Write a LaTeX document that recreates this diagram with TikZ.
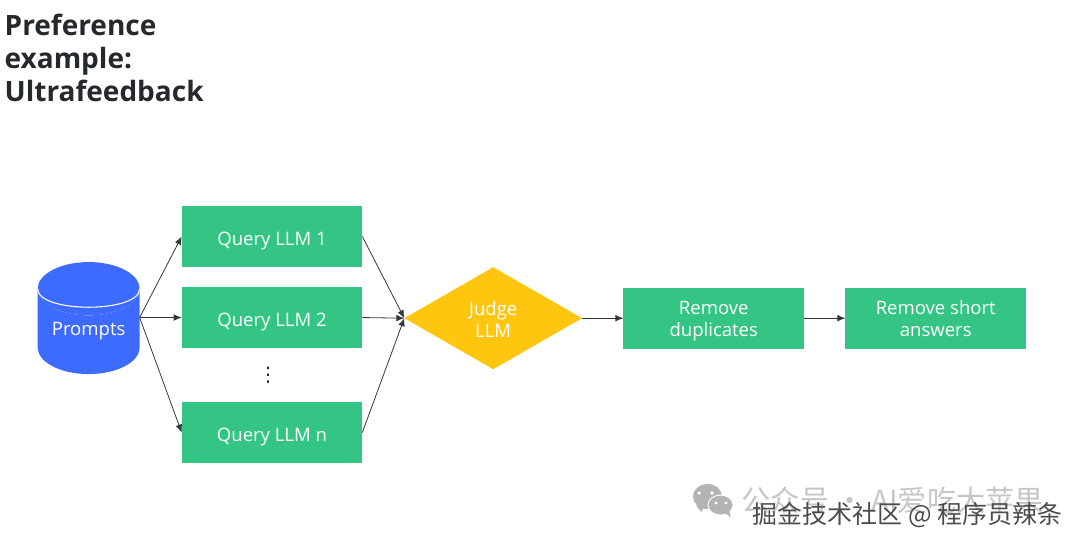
\documentclass[tikz,border=0pt]{standalone}
\usepackage{fontspec}
\setmainfont{Open Sans}
\newfontfamily\cjkfont{Noto Sans CJK SC}
\newfontfamily\symfont{DejaVu Sans}
\usepackage{tikz}
\usetikzlibrary{positioning, arrows.meta, shapes.geometric}
\usepackage{xcolor}
\definecolor{ufgreen}{HTML}{34C585}
\definecolor{ufyellow}{HTML}{FFC60F}
\definecolor{ufblue}{HTML}{3D6BFF}
\definecolor{ufink}{HTML}{25282D}
\definecolor{ufline}{HTML}{33363A}
\definecolor{ufmark}{HTML}{C6C6C6}
\definecolor{ufmarkicon}{HTML}{B4B4B4}
\tikzset{
  ufbox/.style   = {fill=ufgreen, minimum width=135.5pt, minimum height=45.75pt,
                    inner sep=0pt, outer sep=0pt, align=center, text=white,
                    font=\fontsize{13.9}{16.5}\selectfont,
                    execute at begin node=\rule{0pt}{16.5pt}},
  uftwo/.style   = {execute at begin node=\rule[-3.5pt]{0pt}{34.5pt}},
  ufdec/.style   = {diamond, fill=ufyellow, aspect=1.735, minimum width=133.3pt,
                    minimum height=76.5pt, inner sep=0pt, outer sep=0pt,
                    align=center, text=white, font=\fontsize{13.9}{16.5}\selectfont,
                    execute at begin node=\rule{0pt}{28.5pt}},
  ufdb/.style    = {cylinder, shape border rotate=90, aspect=0.725, draw=none,
                    cylinder uses custom fill, cylinder body fill=ufblue,
                    cylinder end fill=ufblue, minimum width=76.5pt,
                    minimum height=84pt, inner sep=0pt, outer sep=0pt, text=white,
                    font=\fontsize{13.9}{16.5}\selectfont},
  ufarrow/.style = {-{Latex[length=6pt,width=5pt]}, ufline, line width=0.6pt},
  uftitle/.style = {align=left, inner sep=0pt, text=ufink,
                    font=\fontsize{21}{25.1}\selectfont\bfseries}
}
\begin{document}
\begin{tikzpicture}[node distance=15pt and 31.5pt]
  \useasboundingbox (0,0) rectangle (810pt,-408.75pt);

  \node[uftitle, anchor=north west] (title) at (3.3pt,-10pt)
        {Preference\\example:\\Ultrafeedback};

  \node[ufbox] (q1) at (204pt,-177.4pt) {Query LLM 1};
  \node[ufbox, below=of q1]        (q2) {Query LLM 2};
  \node[ufbox, below=40.5pt of q2] (qn) {Query LLM n};
  \node[ufdb, left=31.5pt of q2, yshift=-10.5pt] (prompts) {Prompts};
  \coordinate (promptsout) at ([yshift=10.5pt]prompts.east);
  \node[inner sep=0pt, text=ufink, font=\symfont\fontsize{15}{16}\selectfont,
        below=14pt of q2, xshift=-3pt] (dots) {⋮};
  \node[ufdec, right=31.5pt of q2, yshift=-0.5pt]  (judge) {Judge\\LLM};
  \node[ufbox, uftwo, right=31pt of judge] (dedup) {Remove\\duplicates};
  \node[ufbox, uftwo, right=31pt of dedup] (short) {Remove short\\answers};

  \draw[white, line width=0.8pt] (prompts.before top) .. controls +(0,-18.5pt) and +(0,-18.5pt) .. (prompts.after top);

  \draw[ufarrow] (promptsout) -- (q1.west);
  \draw[ufarrow] (promptsout) -- (q2.west);
  \draw[ufarrow] (promptsout) -- (qn.west);
  \draw[ufarrow] (q1.east) -- (judge.west);
  \draw[ufarrow] (q2.east) -- (judge.west);
  \draw[ufarrow] (qn.east) -- (judge.west);
  \draw[ufarrow] (judge.east) -- (dedup.west);
  \draw[ufarrow] (dedup.east) -- (short.west);

  % watermark
  \fill[ufmarkicon] (530.6pt,-372.4pt) ellipse (10.9pt and 9.4pt);
  \fill[ufmarkicon] (522pt,-379pt) -- (526pt,-384pt) -- (528pt,-380pt) -- cycle;
  \filldraw[ufmarkicon, draw=white, line width=0.7pt] (540.4pt,-378.8pt) ellipse (9.4pt and 7.5pt);
  \fill[ufmarkicon] (544pt,-385pt) -- (548pt,-388pt) -- (547pt,-383pt) -- cycle;
  \fill[white] (524.3pt,-369.8pt) circle (1.4pt) (534pt,-369.8pt) circle (1.4pt)
               (537pt,-377.3pt) circle (1.2pt) (544.5pt,-377.3pt) circle (1.2pt);
  \node[anchor=west, inner sep=0pt, text=ufmark, font=\cjkfont\fontsize{21.9}{24}\selectfont]
        (markback) at (556pt,-375pt) {公众号 · AI爱吃大苹果};
  \node[anchor=west, inner sep=0pt, text=black!70, font=\cjkfont\fontsize{18.7}{22}\selectfont]
        (markfront) at (564.5pt,-386.5pt) {掘金技术社区 @ 程序员辣条};
\end{tikzpicture}
\end{document}
